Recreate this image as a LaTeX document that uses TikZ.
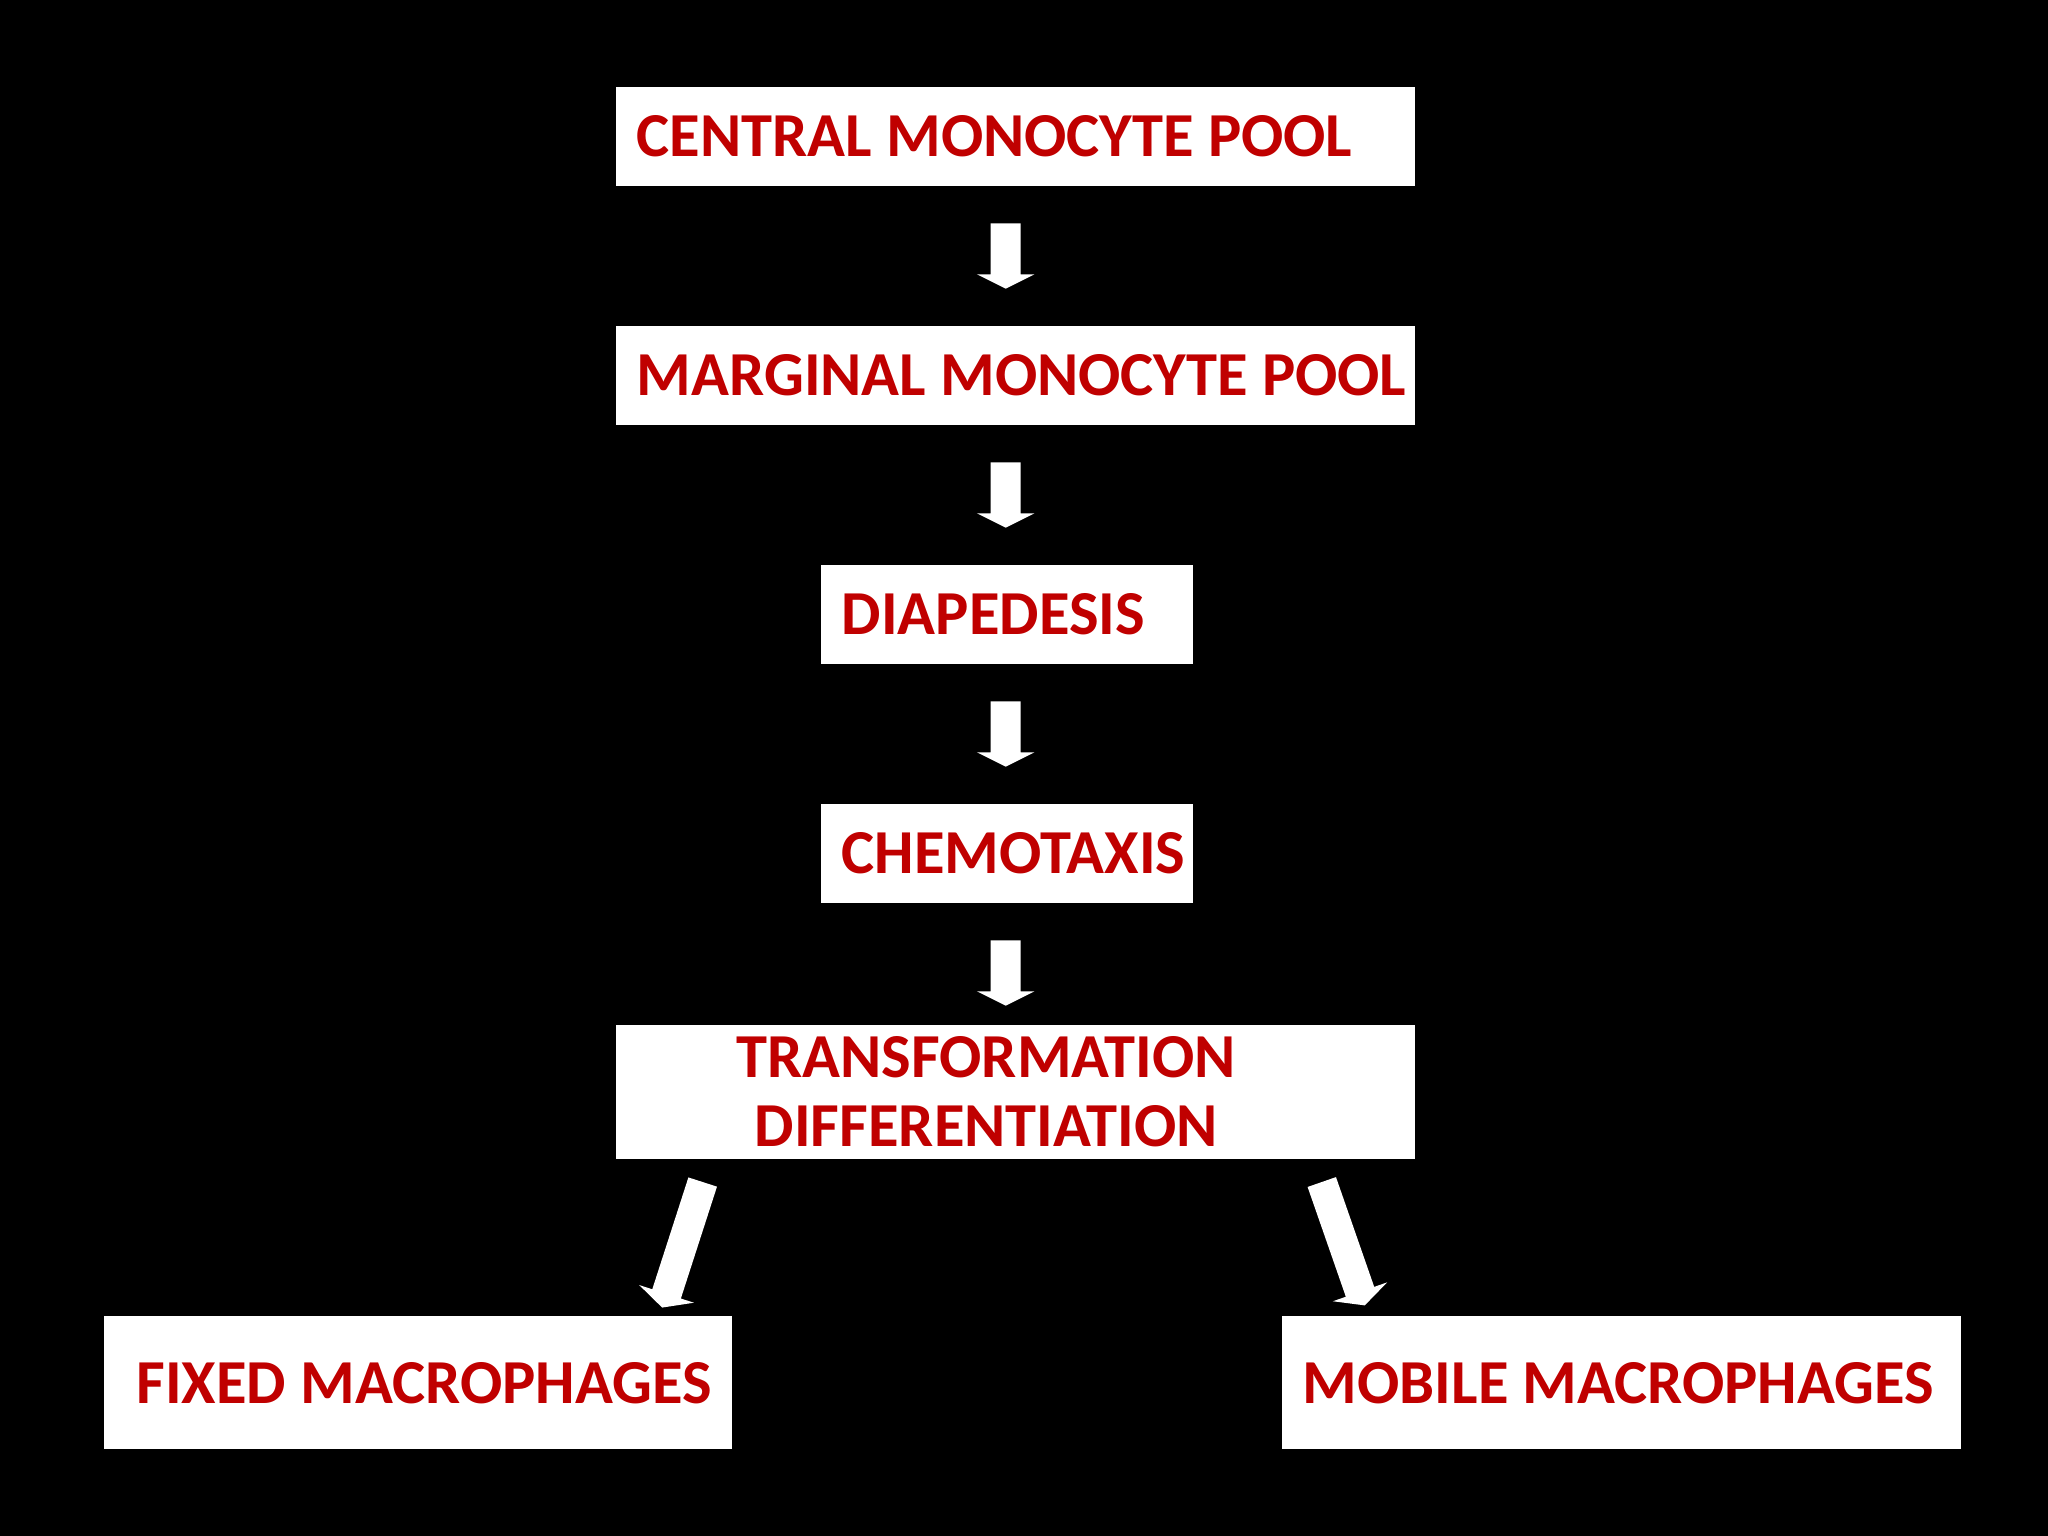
\documentclass[tikz,border=0pt]{standalone}
\usepackage{fontspec}
\setmainfont{Carlito}
\definecolor{txtred}{RGB}{192,0,0}
\begin{document}
\begin{tikzpicture}[x=0.01306cm,y=0.01306cm,
  box/.style={fill=white,draw=none,inner sep=0pt},
  lbl/.style={text=txtred,font=\fontsize{17.8}{19.5}\selectfont\bfseries,inner sep=0pt},
  pics/barrow/.style={code={\fill[white] (0,-11.5)--(#1-11,-11.5)--(#1-11,-22)--(#1,0)--(#1-11,22)--(#1-11,11.5)--(0,11.5)--cycle;}}]
\fill[black] (0,0) rectangle (1568,-1176);
\node[box,minimum width=612*0.01306cm,minimum height=76*0.01306cm,anchor=north west] (b1) at (471,-66) {};
\node[box,minimum width=612*0.01306cm,minimum height=76*0.01306cm,anchor=north west] (b2) at (471,-249) {};
\node[box,minimum width=285*0.01306cm,minimum height=76*0.01306cm,anchor=north west] (b3) at (628,-432) {};
\node[box,minimum width=285*0.01306cm,minimum height=76*0.01306cm,anchor=north west] (b4) at (628,-615) {};
\node[box,minimum width=612*0.01306cm,minimum height=103*0.01306cm,anchor=north west] (b5) at (471,-784) {};
\node[box,minimum width=481*0.01306cm,minimum height=102*0.01306cm,anchor=north west] (b6) at (79,-1007) {};
\node[box,minimum width=520*0.01306cm,minimum height=102*0.01306cm,anchor=north west] (b7) at (981,-1007) {};
\node[lbl,anchor=west] (t1) at (487,-104) {CENTRAL MONOCYTE POOL};
\node[lbl,anchor=west] (t2) at (487,-287) {MARGINAL MONOCYTE POOL};
\node[lbl,anchor=west] (t3) at (644,-470) {DIAPEDESIS};
\node[lbl,anchor=west] (t4) at (644,-653) {CHEMOTAXIS};
\node[lbl,align=center] (t5) at (755,-836) {TRANSFORMATION\\DIFFERENTIATION};
\node[lbl,anchor=west] (t6) at (104,-1059) {FIXED MACROPHAGES};
\node[lbl,anchor=west] (t7) at (997,-1059) {MOBILE MACROPHAGES};
\pic[rotate=-90] at (770,-171) {barrow=50};
\pic[rotate=-90] at (770,-354) {barrow=50};
\pic[rotate=-90] at (770,-537) {barrow=50};
\pic[rotate=-90] at (770,-720) {barrow=50};
\pic[rotate=-107.9] at (538,-905) {barrow=101};
\pic[rotate=-70.8] at (1012,-905) {barrow=100};
\end{tikzpicture}
\end{document}
